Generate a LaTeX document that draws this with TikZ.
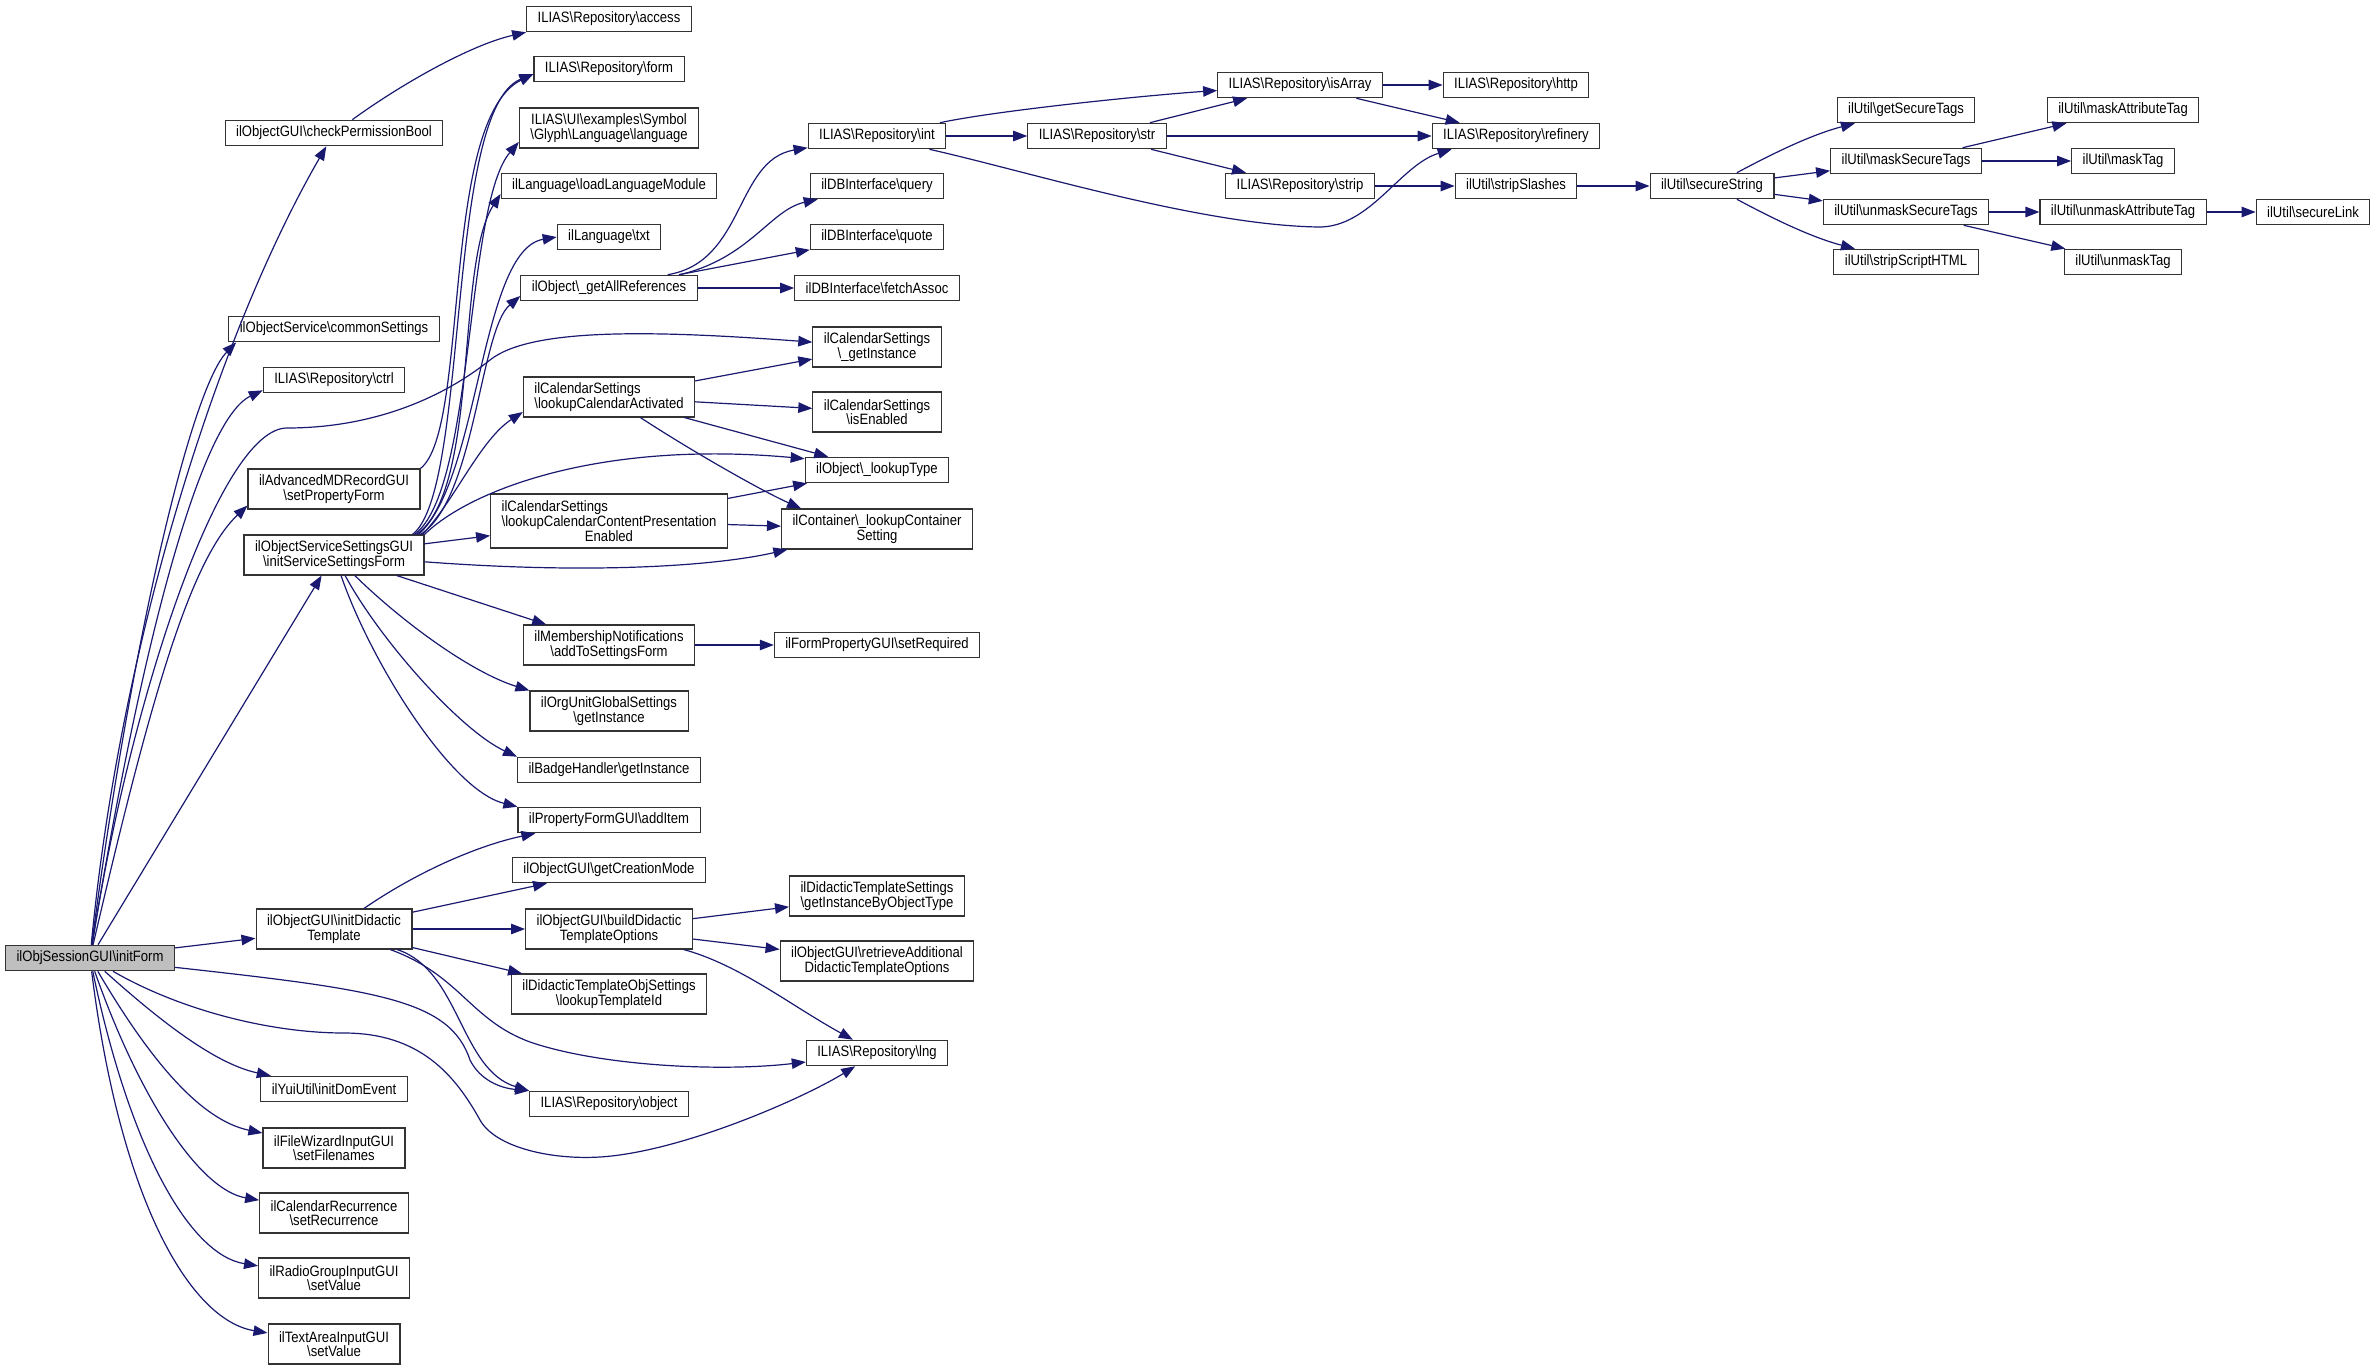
\documentclass[tikz,border=0pt]{standalone}
\usepackage{fontspec}
\setmainfont[FakeStretch=0.873]{Liberation Sans}
\usetikzlibrary{arrows.meta}

\definecolor{edgeblue}{HTML}{191970}
\definecolor{rootgray}{HTML}{BFBFBF}
\newcommand{\bsl}{\textbackslash}

\tikzset{
 fn/.style={draw=black!80, line width=1.1pt, fill=white, inner xsep=11pt, inner ysep=5pt,
   minimum height=25.5pt, align=center, font=\fontsize{15pt}{14.7pt}\selectfont},
 rootfn/.style={fn, fill=rootgray},
 two/.style={minimum height=40pt},
 three/.style={minimum height=54pt},
 call/.style={draw=edgeblue, line width=1.2pt, -{Triangle[length=14pt,width=10.5pt]}}
}

\begin{document}
\begin{tikzpicture}[x=1pt,y=-1pt]
\useasboundingbox (0,0) rectangle (2376,1370);

\def\cB {334} \def\cC {609} \def\cD {877}

% caller
\node[rootfn] (init) at (90,958) {ilObjSessionGUI\bsl initForm};

% first column of callees
\node[fn] (chk) at (\cB,133) {ilObjectGUI\bsl checkPermissionBool};
\node[fn] (osvc) at (\cB,329) {ilObjectService\bsl commonSettings};
\node[fn] (ctrl) at (\cB,380) {ILIAS\bsl Repository\bsl ctrl};
\node[fn,two] (amd) at (\cB,489) {ilAdvancedMDRecordGUI\\\bsl setPropertyForm};
\node[fn,two] (oss) at (\cB,555) {ilObjectServiceSettingsGUI\\\bsl initServiceSettingsForm};
\node[fn,two] (idt) at (\cB,929) {ilObjectGUI\bsl initDidactic\\Template};
\node[fn] (yui) at (\cB,1089) {ilYuiUtil\bsl initDomEvent};
\node[fn,two] (fwiz) at (\cB,1148) {ilFileWizardInputGUI\\\bsl setFilenames};
\node[fn,two] (crec) at (\cB,1213) {ilCalendarRecurrence\\\bsl setRecurrence};
\node[fn,two] (radio) at (\cB,1278) {ilRadioGroupInputGUI\\\bsl setValue};
\node[fn,two] (tarea) at (\cB,1344) {ilTextAreaInputGUI\\\bsl setValue};

% second column
\node[fn] (access) at (\cC,19) {ILIAS\bsl Repository\bsl access};
\node[fn] (form) at (\cC,69) {ILIAS\bsl Repository\bsl form};
\node[fn,two] (uilang) at (\cC,128) {ILIAS\bsl UI\bsl examples\bsl Symbol\\\bsl Glyph\bsl Language\bsl language};
\node[fn] (llm) at (\cC,186) {ilLanguage\bsl loadLanguageModule};
\node[fn] (txt) at (\cC,237) {ilLanguage\bsl txt};
\node[fn] (allref) at (\cC,288) {ilObject\bsl\_getAllReferences};
\node[fn,two,align=left] (calact) at (\cC,397) {ilCalendarSettings\\\bsl lookupCalendarActivated};
\node[fn,three] (calcp) at (\cC,521) {\rlap{ilCalendarSettings}\hphantom{\bsl lookupCalendarContentPresentation}\\\bsl lookupCalendarContentPresentation\\Enabled};
\node[fn,two] (memb) at (\cC,645) {ilMembershipNotifications\\\bsl addToSettingsForm};
\node[fn,two] (orgu) at (\cC,711) {ilOrgUnitGlobalSettings\\\bsl getInstance};
\node[fn] (badge) at (\cC,770) {ilBadgeHandler\bsl getInstance};
\node[fn] (additem) at (\cC,820) {ilPropertyFormGUI\bsl addItem};
\node[fn] (gcm) at (\cC,870) {ilObjectGUI\bsl getCreationMode};
\node[fn,two] (bdt) at (\cC,929) {ilObjectGUI\bsl buildDidactic\\TemplateOptions};
\node[fn,two] (dtos) at (\cC,994) {ilDidacticTemplateObjSettings\\\bsl lookupTemplateId};
\node[fn] (obj) at (\cC,1104) {ILIAS\bsl Repository\bsl object};

% third column
\node[fn] (int) at (\cD,136) {ILIAS\bsl Repository\bsl int};
\node[fn] (query) at (\cD,186) {ilDBInterface\bsl query};
\node[fn] (quote) at (\cD,237) {ilDBInterface\bsl quote};
\node[fn] (fetch) at (\cD,288) {ilDBInterface\bsl fetchAssoc};
\node[fn,two] (getinst) at (\cD,347) {ilCalendarSettings\\\bsl\_getInstance};
\node[fn,two] (isen) at (\cD,412) {ilCalendarSettings\\\bsl isEnabled};
\node[fn] (ltype) at (\cD,470) {ilObject\bsl\_lookupType};
\node[fn,two] (lcont) at (\cD,529) {ilContainer\bsl\_lookupContainer\\Setting};
\node[fn] (setreq) at (\cD,645) {ilFormPropertyGUI\bsl setRequired};
\node[fn,two] (dts) at (\cD,896) {ilDidacticTemplateSettings\\\bsl getInstanceByObjectType};
\node[fn,two] (rad) at (\cD,961) {ilObjectGUI\bsl retrieveAdditional\\DidacticTemplateOptions};
\node[fn] (lng) at (\cD,1053) {ILIAS\bsl Repository\bsl lng};

% string helpers
\node[fn] (str) at (1097,136) {ILIAS\bsl Repository\bsl str};
\node[fn] (isarr) at (1300,85) {ILIAS\bsl Repository\bsl isArray};
\node[fn] (strip) at (1300,186) {ILIAS\bsl Repository\bsl strip};
\node[fn] (http) at (1516,85) {ILIAS\bsl Repository\bsl http};
\node[fn] (refin) at (1516,136) {ILIAS\bsl Repository\bsl refinery};
\node[fn] (strsl) at (1516,186) {ilUtil\bsl stripSlashes};
\node[fn] (secstr) at (1712,186) {ilUtil\bsl secureString};
\node[fn] (gst) at (1906,110) {ilUtil\bsl getSecureTags};
\node[fn] (mst) at (1906,161) {ilUtil\bsl maskSecureTags};
\node[fn] (ust) at (1906,212) {ilUtil\bsl unmaskSecureTags};
\node[fn] (ssh) at (1906,262) {ilUtil\bsl stripScriptHTML};
\node[fn] (mat) at (2123,110) {ilUtil\bsl maskAttributeTag};
\node[fn] (mtag) at (2123,161) {ilUtil\bsl maskTag};
\node[fn] (uat) at (2123,212) {ilUtil\bsl unmaskAttributeTag};
\node[fn] (utag) at (2123,262) {ilUtil\bsl unmaskTag};
\node[fn] (slink) at (2313,212) {ilUtil\bsl secureLink};

% straight calls
\foreach \a/\b in {init/oss, init/idt, oss/calcp, oss/memb, idt/gcm, idt/bdt, idt/dtos,
  bdt/dts, bdt/rad, memb/setreq, calact/getinst, calact/isen, calact/ltype,
  calcp/ltype, calcp/lcont, allref/quote, allref/fetch, int/str, str/isarr,
  str/refin, str/strip, isarr/http, isarr/refin, strip/strsl, strsl/secstr,
  secstr/mst, secstr/ust, mst/mat, mst/mtag, ust/uat, ust/utag, uat/slink}
 \draw[call] (\a) -- (\b);

% root, upwards
\draw[call] (init) .. controls (120,640) and (220,330) .. (chk);
\draw[call] (init) .. controls (130,650) and (190,390) .. ([xshift=8pt]osvc.south west);
\draw[call] (init) .. controls (140,650) and (200,420) .. ([yshift=3pt]ctrl.south west);
\draw[call] (init) .. controls (130,700) and (220,428) .. (287,428)
  .. controls (370,428) and (440,400) .. (490,360)
  .. controls (530,328) and (650,330) .. (getinst);
\draw[call] (init) .. controls (150,700) and (190,560) .. ([yshift=4pt]amd.south west);

% root, downwards
\draw[call] (init) .. controls (170,1030) and (220,1065) .. (yui);
\draw[call] (init) .. controls (150,1060) and (200,1120) .. (fwiz);
\draw[call] (init) .. controls (140,1100) and (200,1190) .. (crec);
\draw[call] (init) .. controls (130,1150) and (190,1255) .. (radio);
\draw[call] (init) .. controls (120,1200) and (190,1320) .. (tarea);
\draw[call] (init) .. controls (380,990) and (450,1000) .. (470,1060)
  .. controls (480,1080) and (500,1088) .. (obj.north west);
\draw[call] (init) .. controls (180,1010) and (270,1033) .. (344,1033)
  .. controls (420,1033) and (455,1075) .. (480,1120)
  .. controls (495,1147) and (550,1160) .. (600,1157)
  .. controls (680,1152) and (800,1100) .. (lng);

% the bundle out of the settings form
\draw[call] (amd.north east) .. controls (470,430) and (440,120) .. ([yshift=-5pt]form.west);
\draw[call] ([xshift=-12pt]oss.north east) .. controls (470,490) and (445,110) .. ([yshift=-5pt]form.west);
\draw[call] ([xshift=-10pt]oss.north east) .. controls (475,490) and (465,205) .. ([yshift=-14pt]uilang.west);
\draw[call] ([xshift=-8pt]oss.north east) .. controls (480,490) and (455,265) .. ([yshift=-8pt]llm.west);
\draw[call] ([xshift=-6pt]oss.north east) .. controls (480,480) and (480,250) .. (txt.west);
\draw[call] ([xshift=-4pt]oss.north east) .. controls (475,500) and (480,330) .. ([yshift=-8pt]allref.west);
\draw[call] ([xshift=-2pt]oss.north east) .. controls (455,500) and (480,440) .. ([yshift=-15pt]calact.west);
\draw[call] (oss.north east) .. controls (470,490) and (600,440) .. ([yshift=-2pt]ltype.north west);
\draw[call] (oss) .. controls (600,575) and (720,565) .. (lcont);
\draw[call] (oss) .. controls (400,620) and (470,672) .. (orgu.north west);
\draw[call] (oss) .. controls (380,640) and (460,730) .. (badge.north west);
\draw[call] (oss) .. controls (370,660) and (450,790) .. (additem.north west);

% didactic template
\draw[call] (idt) .. controls (420,870) and (480,845) .. ([xshift=18pt]additem.south west);
\draw[call] (idt) .. controls (460,970) and (460,1070) .. (obj.north west);
\draw[call] (idt) .. controls (460,975) and (470,1020) .. (530,1042)
  .. controls (600,1066) and (720,1072) .. ([yshift=-9pt]lng.west);
\draw[call] (bdt) .. controls (740,965) and (790,1005) .. (lng);

\draw[call] (calact) .. controls (690,450) and (760,490) .. ([xshift=20pt]lcont.north west);
\draw[call] (chk) .. controls (400,85) and (470,45) .. (access.south west);

% references and strings
\draw[call] ([xshift=-30pt]allref.north east) .. controls (745,262) and (735,160) .. (int);
\draw[call] ([xshift=-18pt]allref.north east) .. controls (750,258) and (770,210) .. (query);
\draw[call] (int) .. controls (1000,110) and (1150,95) .. (isarr);
\draw[call] ([xshift=-17pt]int.south east) .. controls (1030,172) and (1200,225) .. (1318,227)
  .. controls (1370,228) and (1400,165) .. ([xshift=20pt]refin.south west);
\draw[call] (secstr) .. controls (1770,155) and (1810,135) .. (gst);
\draw[call] (secstr) .. controls (1770,217) and (1810,237) .. (ssh);

\end{tikzpicture}
\end{document}
